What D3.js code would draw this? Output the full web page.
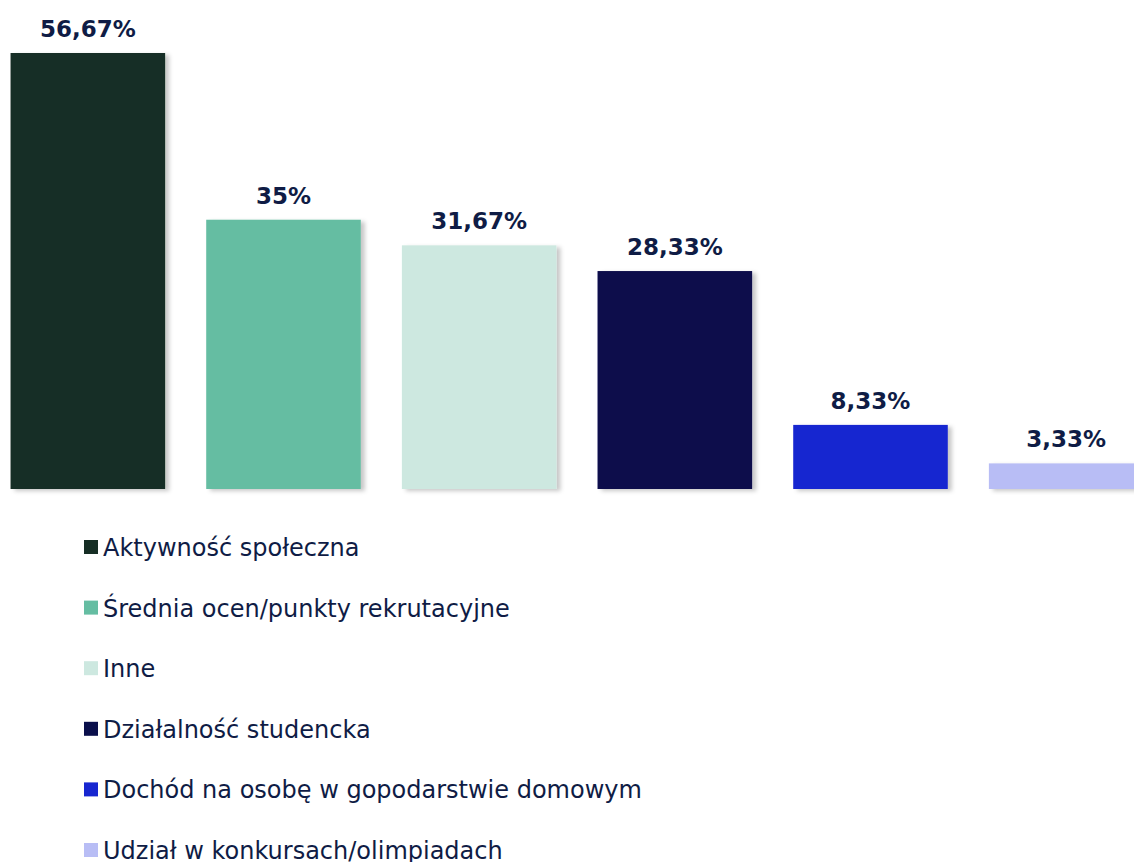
<!DOCTYPE html>
<html>
<head>
<meta charset="utf-8">
<script src="https://cdn.jsdelivr.net/npm/d3@7"></script>
<style>
  html, body { margin: 0; padding: 0; background: #fff; }
  #chart { width: 1134px; height: 862px; overflow: hidden; }
</style>
</head>
<body>
<div id="chart"></div>
<script>
// ==== DATA ====
const CATEGORIES = [
  "Aktywność społeczna",
  "Średnia ocen/punkty rekrutacyjne",
  "Inne",
  "Działalność studencka",
  "Dochód na osobę w gopodarstwie domowym",
  "Udział w konkursach/olimpiadach"
];
const VALUES = [56.67, 35, 31.67, 28.33, 8.33, 3.33];
const LABELS = ["56,67%", "35%", "31,67%", "28,33%", "8,33%", "3,33%"];
const COLORS = ["#162e25", "#65bda2", "#cde8e0", "#0a0f4b", "#1726d0", "#b8bdf5"];

// ==== SIZE ====
const width = 1134;
const height = 862;
const FONT = "'DejaVu Sans', Verdana, sans-serif";
const TEXT_COLOR = "#0f1c45";

// ==== SCALES ====
const x = d3.scaleBand()
  .domain(CATEGORIES)
  .range([-10, 1164])
  .paddingInner(0.21)
  .paddingOuter(0.105);

const y = d3.scaleLinear()
  .domain([0, 56.67])
  .range([489, 53]);

const color = d3.scaleOrdinal().domain(CATEGORIES).range(COLORS);

// ==== ROOT SVG ====
const svg = d3.select("#chart")
  .append("svg")
  .attr("width", width)
  .attr("height", height)
  .attr("viewBox", `0 0 ${width} ${height}`);

// soft drop shadow for the bars
const defs = svg.append("defs");
const shadow = defs.append("filter")
  .attr("id", "barShadow")
  .attr("x", "-10%").attr("y", "-10%")
  .attr("width", "130%").attr("height", "130%");
shadow.append("feDropShadow")
  .attr("dx", 4)
  .attr("dy", 2)
  .attr("stdDeviation", 2)
  .attr("flood-color", "#000")
  .attr("flood-opacity", 0.22);

const data = CATEGORIES.map((c, i) => ({ cat: c, value: VALUES[i], label: LABELS[i] }));

// === BARS ===
svg.append("g").attr("class", "bars")
  .selectAll("rect")
  .data(data)
  .enter()
  .append("rect")
  .attr("x", d => x(d.cat))
  .attr("y", d => y(d.value))
  .attr("width", x.bandwidth())
  .attr("height", d => y(0) - y(d.value))
  .attr("fill", d => color(d.cat))
  .attr("filter", "url(#barShadow)");

// === VALUE LABELS ===
svg.append("g").attr("class", "labels")
  .selectAll("text")
  .data(data)
  .enter()
  .append("text")
  .attr("x", d => x(d.cat) + x.bandwidth() / 2)
  .attr("y", d => y(d.value) - 16)
  .attr("text-anchor", "middle")
  .attr("font-family", FONT)
  .attr("font-weight", "bold")
  .attr("font-size", 23)
  .attr("fill", TEXT_COLOR)
  .text(d => d.label);

// === LEGEND ===
const legend = svg.append("g")
  .attr("class", "legend")
  .attr("transform", "translate(84, 547)");

const legendRow = legend.selectAll("g.row")
  .data(CATEGORIES)
  .enter()
  .append("g")
  .attr("class", "row")
  .attr("transform", (d, i) => `translate(0, ${i * 60.6})`);

legendRow.append("rect")
  .attr("x", 0)
  .attr("y", -7)
  .attr("width", 14)
  .attr("height", 14)
  .attr("fill", d => color(d));

legendRow.append("text")
  .attr("x", 19)
  .attr("y", 9)
  .attr("font-family", FONT)
  .attr("font-size", 24)
  .attr("fill", TEXT_COLOR)
  .text(d => d);
</script>
</body>
</html>
